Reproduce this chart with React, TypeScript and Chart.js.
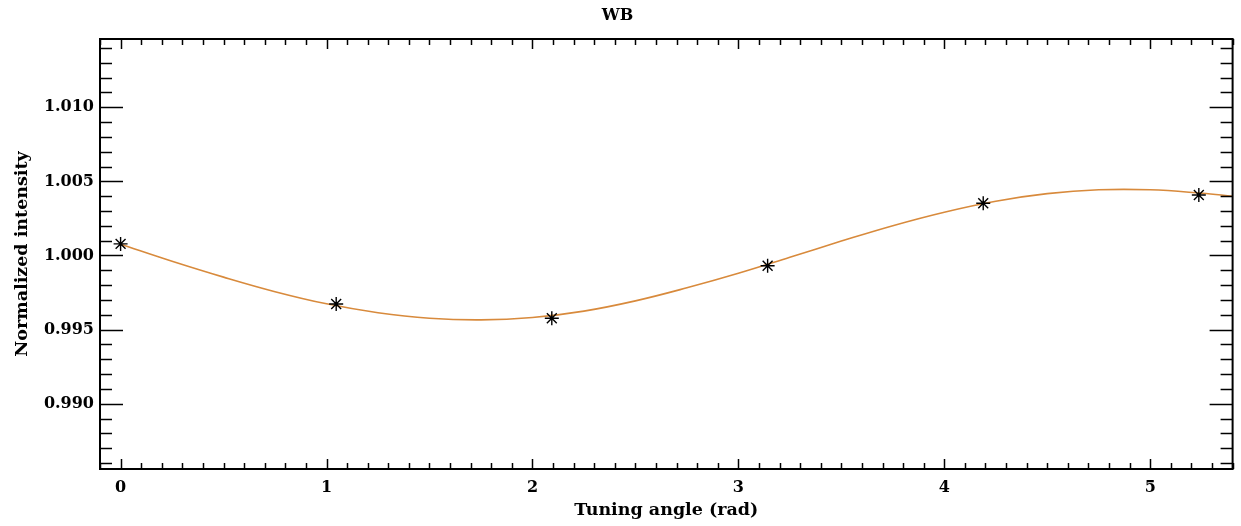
import React, { useEffect, useRef } from "react";
import { Chart, registerables } from "chart.js";

Chart.register(...registerables);

const chartTitle = "WB";
const xTitle = "Tuning angle (rad)";
const yTitle = "Normalized intensity";

// measured points (asterisks)
const measuredAngles = [0, 1.047, 2.094, 3.142, 4.189, 5.236];
const measuredIntensity = [1.00078, 0.99673, 0.99577, 0.99931, 1.00352, 1.00408];

// fitted curve (orange)
const fitAngles = [0, 0.25, 0.5, 0.75, 1.0, 1.25, 1.5, 1.75, 2.0, 2.25, 2.5, 2.75, 3.0, 3.25, 3.5, 3.75, 4.0, 4.25, 4.5, 4.75, 5.0, 5.25, 5.4];
const fitIntensity = [1.00076, 0.99961, 0.99854, 0.99756, 0.99674, 0.99614, 0.99577, 0.99566, 0.99582, 0.99625, 0.99694, 0.99782, 0.9988, 0.99988, 1.00097, 1.00201, 1.00292, 1.00366, 1.00417, 1.00443, 1.00443, 1.0042, 1.004];

const xMajorTicks = [0, 1, 2, 3, 4, 5];
const xTickLabels = ["0", "1", "2", "3", "4", "5"];
const yMajorTicks = [0.99, 0.995, 1.0, 1.005, 1.01];
const yTickLabels = ["0.990", "0.995", "1.000", "1.005", "1.010"];
const xMin = -0.1;
const xMax = 5.4;
const yMin = 0.9856;
const yMax = 1.0146;
const xMinorStep = 0.1;
const yMinorStep = 0.001;

const FONT = "'DejaVu Serif', 'Liberation Serif', serif";

const frameTicks = {
  id: "frameTicks",
  afterDatasetsDraw(chart: any) {
    const { ctx, chartArea: a, scales } = chart;
    const x = scales.x;
    const y = scales.y;
    ctx.save();
    ctx.strokeStyle = "#000";
    ctx.lineWidth = 1.5;
    const line = (x1: number, y1: number, x2: number, y2: number) => {
      ctx.beginPath();
      ctx.moveTo(x1, y1);
      ctx.lineTo(x2, y2);
      ctx.stroke();
    };
    const isMajor = (arr: number[], v: number) => arr.some((m) => Math.abs(m - v) < 1e-9);
    // x ticks (bottom and top)
    const xi0 = Math.ceil(xMin / xMinorStep - 1e-9);
    const xi1 = Math.floor(xMax / xMinorStep + 1e-9);
    for (let i = xi0; i <= xi1; i++) {
      const v = Math.round(i * xMinorStep * 1e6) / 1e6;
      const px = Math.round(x.getPixelForValue(v)) + 0.5;
      const len = isMajor(xMajorTicks, v) ? 10 : 6;
      line(px, a.bottom, px, a.bottom - len);
      line(px, a.top, px, a.top + len);
    }
    // y ticks (left and right)
    const yi0 = Math.ceil(yMin / yMinorStep - 1e-9);
    const yi1 = Math.floor(yMax / yMinorStep + 1e-9);
    for (let i = yi0; i <= yi1; i++) {
      const v = Math.round(i * yMinorStep * 1e6) / 1e6;
      const py = Math.round(y.getPixelForValue(v)) + 0.5;
      const len = isMajor(yMajorTicks, v) ? 23 : 12;
      line(a.left, py, a.left + len, py);
      line(a.right, py, a.right - len, py);
    }
    ctx.lineWidth = 2;
    ctx.strokeRect(a.left, a.top, a.right - a.left, a.bottom - a.top);
    ctx.restore();
  },
};

export default function App() {
  const ref = useRef<HTMLCanvasElement | null>(null);

  useEffect(() => {
    if (!ref.current) return;
    const fitData = fitAngles.map((v, i) => ({ x: v, y: fitIntensity[i] }));
    const ptData = measuredAngles.map((v, i) => ({ x: v, y: measuredIntensity[i] }));
    const tickFont = { family: FONT, size: 16, weight: "bold" as const };
    const axisTitleFont = { family: FONT, size: 17.5, weight: "bold" as const };
    const chart = new Chart(ref.current, {
      type: "scatter",
      data: {
        datasets: [
          {
            label: "measured",
            data: ptData,
            pointStyle: "star",
            pointRadius: 7,
            pointBorderWidth: 1.4,
            pointBorderColor: "#000",
            pointBackgroundColor: "#000",
            showLine: false,
            order: 0,
          },
          {
            label: "fit",
            data: fitData,
            showLine: true,
            borderColor: "#d88a3c",
            borderWidth: 1.6,
            pointRadius: 0,
            tension: 0.4,
            fill: false,
            order: 1,
          },
        ],
      },
      options: {
        animation: false,
        responsive: false,
        maintainAspectRatio: false,
        layout: { padding: { left: 0, right: 6, top: 0, bottom: 0 } },
        plugins: {
          legend: { display: false },
          tooltip: { enabled: false },
          title: {
            display: true,
            text: chartTitle,
            color: "#000",
            font: { family: FONT, size: 16, weight: "bold" },
            padding: { top: 6, bottom: 13.8 },
          },
        },
        scales: {
          x: {
            type: "linear",
            min: xMin,
            max: xMax,
            grid: { display: false, drawTicks: false },
            border: { display: false },
            afterBuildTicks: (s: any) => {
              s.ticks = xMajorTicks.map((value) => ({ value }));
            },
            afterFit: (s: any) => {
              s.height = 57;
            },
            ticks: {
              color: "#000",
              font: tickFont,
              padding: 9.5,
              maxRotation: 0,
              autoSkip: false,
              callback: (_v: any, i: number) => xTickLabels[i],
            },
            title: {
              display: true,
              text: xTitle,
              color: "#000",
              font: axisTitleFont,
              padding: { top: 5.5, bottom: 5.5 },
            },
          },
          y: {
            type: "linear",
            min: yMin,
            max: yMax,
            grid: { display: false, drawTicks: false },
            border: { display: false },
            afterBuildTicks: (s: any) => {
              s.ticks = yMajorTicks.map((value) => ({ value }));
            },
            afterFit: (s: any) => {
              s.width = 100;
            },
            ticks: {
              color: "#000",
              font: tickFont,
              padding: 6,
              autoSkip: false,
              callback: (_v: any, i: number) => yTickLabels[i],
            },
            title: {
              display: true,
              text: yTitle,
              color: "#000",
              font: axisTitleFont,
              padding: { top: 11.5, bottom: 11.5 },
            },
          },
        },
      },
      plugins: [frameTicks],
    });
    return () => chart.destroy();
  }, []);

  return (
    <div style={{ position: "fixed", left: 0, top: 0, width: 1241, height: 526, background: "#fff" }}>
      <canvas ref={ref} width={1241} height={526} style={{ display: "block", width: 1241, height: 526 }} />
    </div>
  );
}
